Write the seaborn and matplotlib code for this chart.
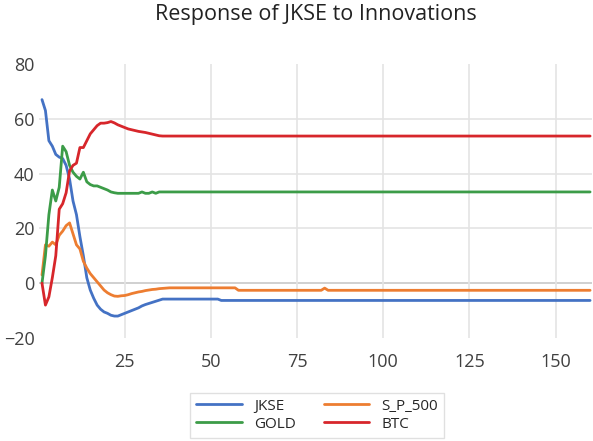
import pandas as pd
import seaborn as sns
import matplotlib.pyplot as plt

sns.set_style("white")
plt.rcParams['font.family'] = ['Open Sans', 'DejaVu Sans']

# periods (dense early, sparse on the flat tail)
periods = list(range(1, 39)) + [52, 53, 57, 58, 82, 83, 84, 160]

jkse = [67, 63, 52, 50, 47, 46, 45.5, 43, 38, 30, 25, 17, 10, 2, -2.5, -5.5, -8, -9.5,
        -10.5, -11, -11.7, -12, -12, -11.5, -11, -10.5, -10, -9.5, -9, -8.3, -7.8, -7.4,
        -7, -6.6, -6.2, -5.8, -5.8, -5.8,
        -5.8, -6.3, -6.3, -6.3, -6.3, -6.3, -6.3, -6.3]
sp500 = [3, 14, 13.5, 15, 14, 17.5, 19, 21, 22, 18, 14, 12.5, 8, 5.5, 3.5, 2, 0.5, -1,
         -2.5, -3.5, -4.2, -4.7, -4.8, -4.6, -4.5, -4.2, -3.8, -3.5, -3.2, -3, -2.7, -2.5,
         -2.3, -2.2, -2, -1.9, -1.8, -1.7,
         -1.7, -1.7, -1.7, -2.6, -2.6, -1.8, -2.6, -2.6]
gold = [0, 10, 25, 34, 30, 35, 50, 48, 43, 40.5, 39, 38, 40.5, 37, 36, 35.5, 35.5, 35,
        34.5, 34, 33.3, 33, 32.8, 32.8, 32.8, 32.8, 32.8, 32.8, 32.8, 33.3, 32.8, 32.8,
        33.3, 32.8, 33.3, 33.3, 33.3, 33.3,
        33.3, 33.3, 33.3, 33.3, 33.3, 33.3, 33.3, 33.3]
btc = [0, -8, -5, 2, 10, 27, 29, 33, 41, 43, 43.8, 49.5, 49.5, 52, 54.5, 56, 57.5, 58.4,
       58.4, 58.6, 59, 58.5, 57.8, 57.3, 56.8, 56.3, 56, 55.7, 55.4, 55.2, 55, 54.7,
       54.4, 54.1, 53.8, 53.7, 53.7, 53.7,
       53.7, 53.7, 53.7, 53.7, 53.7, 53.7, 53.7, 53.7]

series = {"JKSE": jkse, "S_P_500": sp500, "GOLD": gold, "BTC": btc}
colors = {"JKSE": "#4472C4", "S_P_500": "#ED7D31", "GOLD": "#3C9C48", "BTC": "#D7262B"}

df = pd.concat([pd.DataFrame({"Period": periods, "Response": v, "Variable": k})
                for k, v in series.items()], ignore_index=True)

fig = plt.figure(figsize=(5.93, 4.41), dpi=100)
ax = fig.add_axes([0.065, 0.2336, 0.933, 0.6213])

ax.grid(axis="x", color="#e4e4e4", linewidth=1.2)
for yv in [20, 40, 60]:
    ax.axhline(yv, color="#e4e4e4", linewidth=1.2, zorder=0)
ax.axhline(0, color="#c8c8c8", linewidth=1.2, zorder=0)

sns.lineplot(data=df, x="Period", y="Response", hue="Variable", palette=colors,
             linewidth=2.0, ax=ax, legend=False)

ax.set_xlim(0, 160.5)
ax.set_ylim(-20, 80)
ax.set_xticks([25, 50, 75, 100, 125, 150])
ax.set_yticks([-20, 0, 20, 40, 60, 80])
ax.tick_params(length=0, labelsize=13, colors="#404040")
ax.tick_params(axis="x", pad=11)
ax.tick_params(axis="y", pad=3)
ax.set_xlabel("")
ax.set_ylabel("")
for s in ax.spines.values():
    s.set_visible(False)

order = ["JKSE", "GOLD", "S_P_500", "BTC"]
handles = [plt.Line2D([], [], color=colors[k], linewidth=2.0) for k in order]
fig.legend(handles, order, loc="upper center", bbox_to_anchor=(0.535, 0.127), ncol=2,
           fontsize=11, handlelength=3.0, columnspacing=1.8, frameon=True,
           edgecolor="#d9d9d9", fancybox=False, labelspacing=0.2)

fig.suptitle("Response of JKSE to Innovations", fontsize=15.5, x=0.533, y=0.99,
             color="#222222")
fig.savefig("out.png", dpi=100)
